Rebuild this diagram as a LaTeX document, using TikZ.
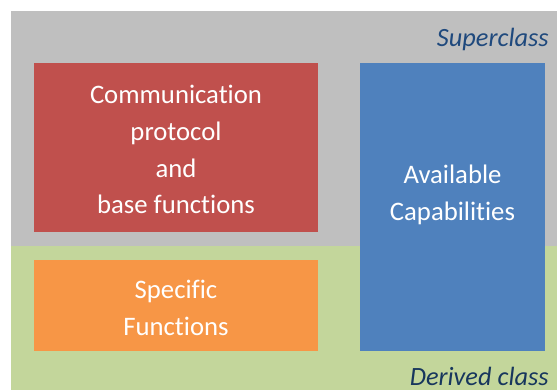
\documentclass[tikz,border=0pt]{standalone}
\usepackage{fontspec}
\setmainfont[Ligatures=NoCommon]{Carlito}
\usepackage{tikz}
\usetikzlibrary{positioning}
\definecolor{superbg}{HTML}{BFBFBF}
\definecolor{derivedbg}{HTML}{C3D69B}
\definecolor{protored}{HTML}{C0504D}
\definecolor{specorange}{HTML}{F79646}
\definecolor{capblue}{HTML}{4F81BD}
\definecolor{supertext}{HTML}{1F497D}
\definecolor{derivedtext}{HTML}{17365D}
\tikzset{
  block/.style={draw=none, text=white, align=center, inner sep=0pt,
    font=\fontsize{15.2}{21}\selectfont},
  classlabel/.style={anchor=base east, inner sep=0pt,
    font=\fontsize{15}{19}\selectfont\itshape}
}
\begin{document}
\begin{tikzpicture}[x=0.02cm,y=-0.02cm]
\useasboundingbox (0,0) rectangle (557,390);
% class regions:
 \fill[superbg] (11,11) rectangle (557,246);
 \fill[derivedbg] (11,246) rectangle (557,390);
 \node[classlabel, text=supertext] (super) at (549,46) {Superclass};
 \node[classlabel, text=derivedtext] (derived) at (549,385) {Derived class};
% blocks:
 \node[block, fill=protored, minimum width=5.68cm, minimum height=3.38cm] (proto) at (176,147.5) {};
 \node[block] (prototext) at (176,149.5) {Communication\\protocol\\and\\base functions};
 \node[block, fill=specorange, minimum width=5.68cm, minimum height=1.82cm] (spec) at (176,305.5) {};
 \node[block] (spectext) at (176,307.5) {Specific\\Functions};
 \node[block, fill=capblue, minimum width=3.7cm, minimum height=5.76cm] (caps) at (452.5,207) {};
 \node[block] (capstext) at (452.5,195) {Available\\Capabilities};
\end{tikzpicture}
\end{document}
